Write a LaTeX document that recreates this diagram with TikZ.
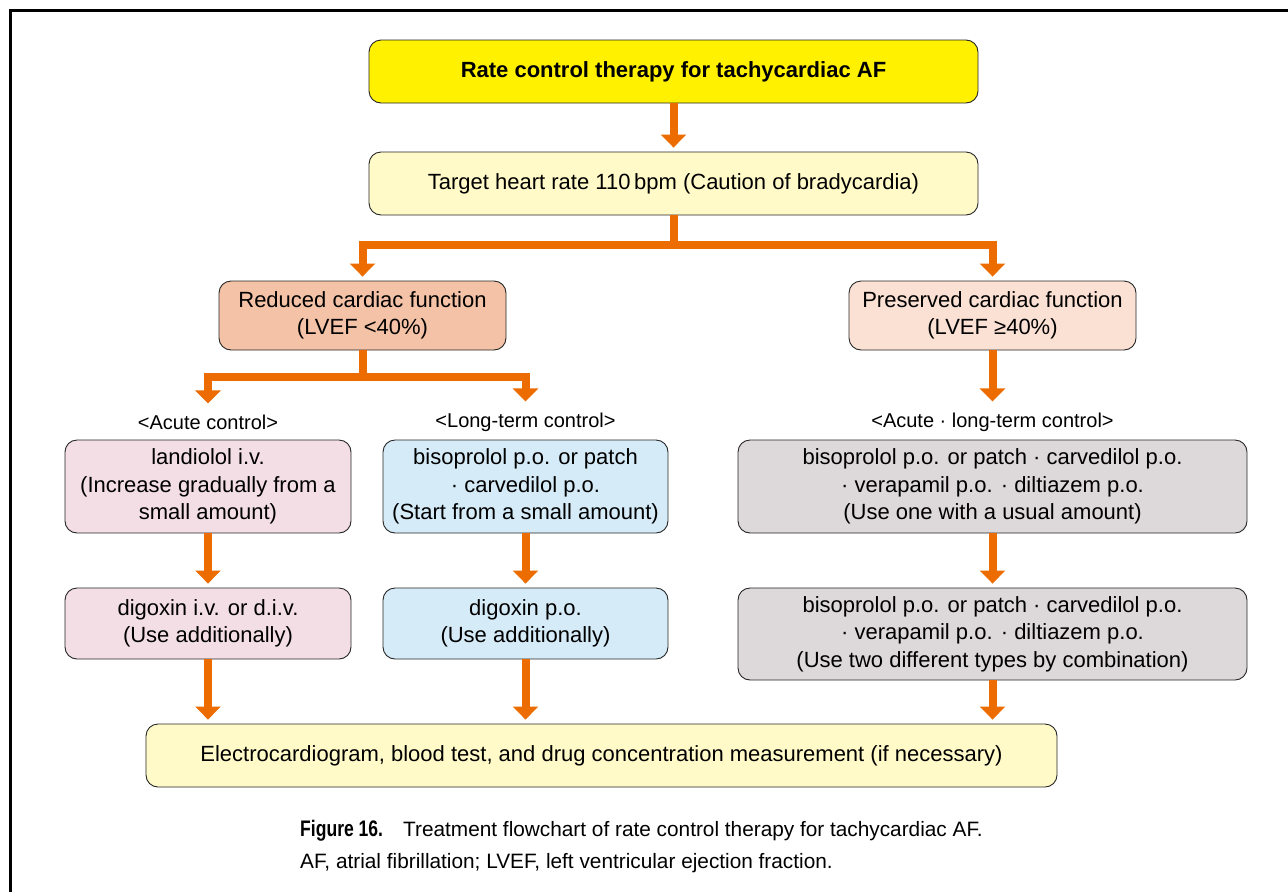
\documentclass[tikz,border=0pt]{standalone}
\usepackage{fontspec}
\setmainfont{Liberation Sans}
\newfontfamily\figlabelfont[FakeStretch=0.78]{Liberation Sans}
\usetikzlibrary{arrows.meta,calc}

\definecolor{flowor}{HTML}{EC6C00}
\definecolor{titleyel}{HTML}{FFF100}
\definecolor{paleyel}{HTML}{FFFAC8}
\definecolor{salmon}{HTML}{F4C2A6}
\definecolor{peach}{HTML}{FBE1D4}
\definecolor{rosepink}{HTML}{F3DEE6}
\definecolor{skyblue}{HTML}{D5EBF8}
\definecolor{warmgray}{HTML}{DDD8D9}

\begin{document}
\begin{tikzpicture}[x=1pt,y=-1pt,
  box/.style={draw=black!85, line width=0.9pt, rounded corners=12pt,
    align=center, inner sep=0pt, font=\fontsize{22}{27.5}\selectfont},
  flow/.style={draw=flowor, line width=8pt,
    -{Triangle[width=25pt,length=13pt]}, shorten >=4pt},
  seg/.style={draw=flowor, line width=8pt},
  sublabel/.style={inner sep=0pt, font=\fontsize{20}{24}\selectfont},
]
\useasboundingbox (0,0) rectangle (1288,892);
\fill[white] (0,0) rectangle (1288,892);

% page frame (top and left edges)
\draw[line width=3pt, line join=miter] (1288,10) -- (10,10) -- (10,892);

% boxes
\node[box, fill=titleyel, minimum width=609, minimum height=63,
  font=\fontsize{22}{27.5}\selectfont\bfseries]
  (title) at (673.5,71.5) {Rate control therapy for tachycardiac AF};
\node[box, fill=paleyel, minimum width=609, minimum height=63]
  (target) at (673.5,183.5) {Target heart rate 110\,bpm (Caution of bradycardia)};
\node[box, fill=salmon, minimum width=287, minimum height=69]
  (reduced) at (362.5,315.5) {Reduced cardiac function\\(LVEF <40\%)};
\node[box, fill=peach, minimum width=287, minimum height=69]
  (preserved) at (992.5,315.5) {Preserved cardiac function\\(LVEF ≥40\%)};

\node[sublabel] (lblacute) at (208,422) {<Acute control>};
\node[sublabel] (lbllong) at (525.5,422) {<Long-term control>};
\node[sublabel] (lblboth) at (992.5,422) {<Acute · long-term control>};

\node[box, fill=rosepink, minimum width=286, minimum height=93]
  (landiolol) at (208,486.5) {landiolol i.v.\\(Increase gradually from a\\small amount)};
\node[box, fill=skyblue, minimum width=285, minimum height=93]
  (bisop) at (525.5,486.5) {bisoprolol p.o. or patch\\· carvedilol p.o.\\(Start from a small amount)};
\node[box, fill=warmgray, minimum width=509, minimum height=93]
  (single) at (992.5,486.5) {bisoprolol p.o. or patch · carvedilol p.o.\\· verapamil p.o. · diltiazem p.o.\\(Use one with a usual amount)};

\node[box, fill=rosepink, minimum width=286, minimum height=71]
  (digiv) at (208,623.5) {digoxin i.v. or d.i.v.\\(Use additionally)};
\node[box, fill=skyblue, minimum width=285, minimum height=71]
  (digpo) at (525.5,623.5) {digoxin p.o.\\(Use additionally)};
\node[box, fill=warmgray, minimum width=509, minimum height=92]
  (combo) at (992.5,634) {bisoprolol p.o. or patch · carvedilol p.o.\\· verapamil p.o. · diltiazem p.o.\\(Use two different types by combination)};

\node[box, fill=paleyel, minimum width=911, minimum height=63]
  (monitor) at (601.5,755.5) {Electrocardiogram, blood test, and drug concentration measurement (if necessary)};

% connectors
\draw[flow] (title.south) -- (target.north);

\coordinate (splitA) at ($(target.south)+(0,30)$);
\draw[seg] (target.south) -- (splitA);
\draw[flow] (splitA) -| (reduced.north);
\draw[flow] (splitA) -| (preserved.north);

\coordinate (splitB) at ($(reduced.south)+(0,27)$);
\draw[seg] (reduced.south) -- (splitB);
\draw[flow] (splitB) -| ([yshift=7]lblacute.north);
\draw[flow] (splitB) -| ([yshift=7]lbllong.north);
\draw[flow] (preserved.south) -- ([yshift=7]lblboth.north);

\draw[flow] (landiolol.south) -- (digiv.north);
\draw[flow] (bisop.south) -- (digpo.north);
\draw[flow] (single.south) -- (combo.north);

\draw[flow] (digiv.south) -- (digiv.south |- monitor.north);
\draw[flow] (digpo.south) -- (digpo.south |- monitor.north);
\draw[flow] (combo.south) -- (combo.south |- monitor.north);

% caption
\node[anchor=base west, inner sep=0pt, font=\fontsize{22.5}{26}\figlabelfont\bfseries]
  (figno) at (300,836) {Figure 16.};
\node[anchor=base west, inner sep=0pt, font=\fontsize{20.8}{26}\selectfont]
  (captext) at (403,836) {Treatment flowchart of rate control therapy for tachycardiac AF.};
\node[anchor=base west, inner sep=0pt, font=\fontsize{20.8}{26}\selectfont]
  (capabbr) at (300,868) {AF, atrial fibrillation; LVEF, left ventricular ejection fraction.};
\end{tikzpicture}
\end{document}
